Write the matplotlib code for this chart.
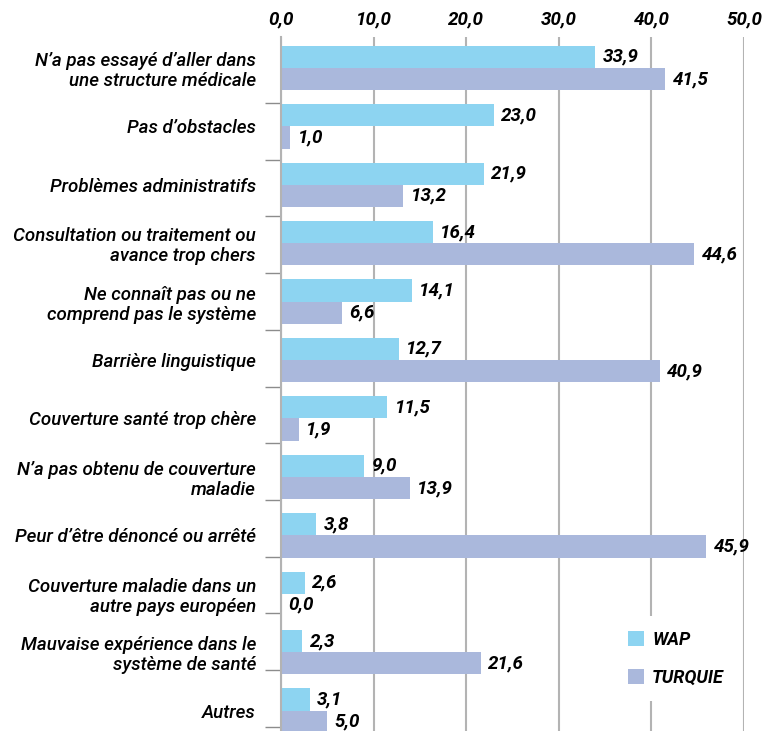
import numpy as np
import matplotlib.pyplot as plt

plt.rcParams['font.family'] = ['Roboto', 'DejaVu Sans']

categories = [
    "N'a pas essayé d'aller dans\nune structure médicale",
    "Pas d'obstacles",
    "Problèmes administratifs",
    "Consultation ou traitement ou\navance trop chers",
    "Ne connaît pas ou ne\ncomprend pas le système",
    "Barrière linguistique",
    "Couverture santé trop chère",
    "N'a pas obtenu de couverture\nmaladie",
    "Peur d'être dénoncé ou arrêté",
    "Couverture maladie dans un\nautre pays européen",
    "Mauvaise expérience dans le\nsystème de santé",
    "Autres",
]
categories = [c.replace("'", "\u2019") for c in categories]
wap = [33.9, 23.0, 21.9, 16.4, 14.1, 12.7, 11.5, 9.0, 3.8, 2.6, 2.3, 3.1]
turquie = [41.5, 1.0, 13.2, 44.6, 6.6, 40.9, 1.9, 13.9, 45.9, 0.0, 21.6, 5.0]
series_names = ['WAP', 'TURQUIE']
colors = ['#8dd4f1', '#aab8dc']

fig = plt.figure(figsize=(7.68, 7.31), dpi=100)
ax = fig.add_axes([281/768, 0.0, 463/768, 694/731])

y = np.arange(len(categories))
h = 0.38
ax.barh(y - h/2, wap, height=h, color=colors[0], label=series_names[0], zorder=2)
ax.barh(y + h/2, turquie, height=h, color=colors[1], label=series_names[1], zorder=2)

def fmt(v):
    return f"{v:.1f}".replace('.', ',')

for yi, v in zip(y, wap):
    ax.text(v + 0.8, yi - h/2, fmt(v), va='center', ha='left',
            fontsize=13.5, fontweight='bold', style='italic', color='black')
for yi, v in zip(y, turquie):
    ax.text(v + 0.8, yi + h/2, fmt(v), va='center', ha='left',
            fontsize=13.5, fontweight='bold', style='italic', color='black')

ax.set_xlim(0, 50)
ax.set_ylim(11.35, -0.53)
ax.xaxis.tick_top()
xt = np.arange(0, 51, 10)
ax.set_xticks(xt)
ax.set_xticklabels([fmt(t) for t in xt], fontsize=13.5, fontweight='bold', style='italic')
ax.tick_params(axis='x', length=0, pad=6)
ax.grid(axis='x', color='#b3b3b3', linewidth=1.5, zorder=0)

ax.set_yticks(y)
ax.set_yticklabels(categories, fontsize=13.5, style='italic', fontweight='medium',
                   linespacing=1.15)
ax.set_yticks(np.linspace(0.6, 11.28, 12), minor=True)
ax.tick_params(axis='y', which='major', length=0, pad=18)
ax.tick_params(axis='y', which='minor', length=11.5, color='#8c8c8c', width=1)

for s in ['top', 'right', 'bottom']:
    ax.spines[s].set_visible(False)
ax.spines['left'].set_color('#b3b3b3')
ax.spines['left'].set_linewidth(1.5)

leg = ax.legend(loc='center', bbox_to_anchor=(0.853, 0.104), frameon=True,
                framealpha=1, edgecolor='none', handlelength=0.9,
                handleheight=0.9, labelspacing=1.1, handletextpad=0.45,
                borderpad=0.8,
                prop={'style': 'italic', 'weight': 'bold', 'size': 13})

fig.savefig('out.png', dpi=100)
